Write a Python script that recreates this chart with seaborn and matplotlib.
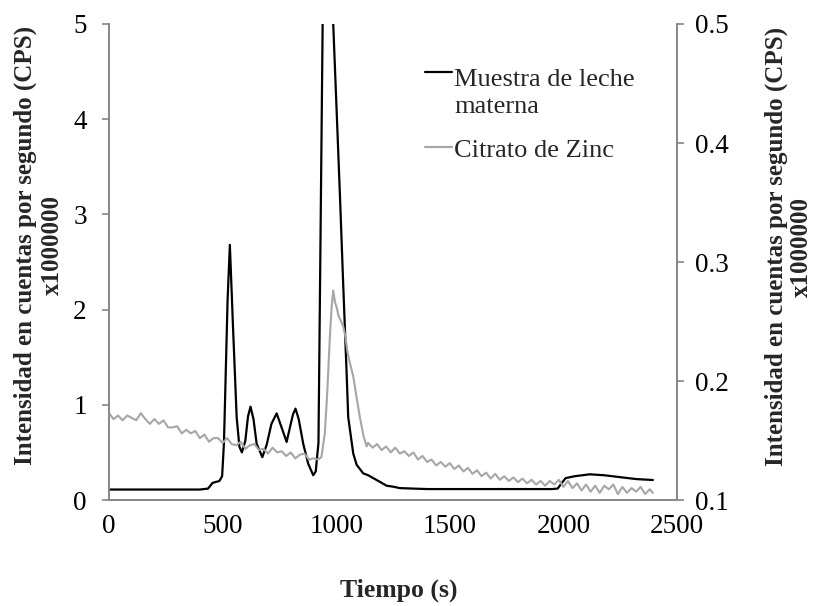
import seaborn as sns
import matplotlib.pyplot as plt
import pandas as pd

# Muestra de leche materna (left axis, CPS x1000000)
t_leche = [0, 100, 200, 300, 400, 436, 456, 486, 498, 506, 510, 522, 532, 547, 562,
           574, 585, 600, 612, 623, 636, 650, 675, 694, 715, 738, 760, 782, 800, 810,
           821, 835, 855, 877, 899, 910, 922, 930, 940, 950, 960, 987, 1002, 1017, 1031,
           1046, 1053, 1075, 1090, 1119, 1141, 1163, 1193, 1222, 1251, 1280, 1400, 1600,
           1800, 1950, 1975, 1990, 2010, 2050, 2117, 2180, 2250, 2320, 2394]
v_leche = [0.11, 0.11, 0.11, 0.11, 0.11, 0.12, 0.18, 0.20, 0.25, 0.60, 0.97, 2.10, 2.68, 1.75, 0.87,
           0.56, 0.50, 0.62, 0.88, 0.98, 0.85, 0.59, 0.45, 0.58, 0.80, 0.91, 0.76, 0.61, 0.80, 0.90,
           0.96, 0.85, 0.59, 0.38, 0.26, 0.30, 0.60, 2.50, 4.90, 7.30, 6.70, 5.00, 4.09, 3.17, 2.26,
           1.33, 0.87, 0.49, 0.37, 0.28, 0.26, 0.23, 0.19, 0.15, 0.14, 0.125, 0.115, 0.115,
           0.115, 0.115, 0.12, 0.17, 0.23, 0.25, 0.27, 0.26, 0.24, 0.22, 0.21]

# Citrato de Zinc (right axis, CPS x1000000)
t_zinc = [0, 20, 40, 60, 80, 100, 120, 140, 160, 180, 200, 220, 240, 260, 280, 300,
          320, 340, 360, 380, 400, 420, 440, 460, 480, 500, 520, 540, 560, 580, 600,
          620, 640, 660, 680, 700, 720, 740, 760, 780, 800, 820, 840, 860, 880, 900,
          920, 935, 950, 960, 973, 980, 987, 995, 1002, 1010, 1017, 1031, 1040, 1050,
          1062, 1075, 1090, 1104, 1120, 1134, 1140, 1160, 1180, 1200, 1220, 1240, 1260,
          1280, 1300, 1320, 1340, 1360, 1380, 1400, 1420, 1440, 1460, 1480, 1500, 1520,
          1540, 1560, 1580, 1600, 1620, 1640, 1660, 1680, 1700, 1720, 1740, 1760, 1780,
          1800, 1820, 1840, 1860, 1880, 1900, 1920, 1940, 1960, 1980, 2000, 2020, 2040,
          2060, 2080, 2100, 2120, 2140, 2160, 2180, 2200, 2220, 2240, 2260, 2280, 2300,
          2320, 2340, 2360, 2380, 2394]
v_zinc = [0.173, 0.168, 0.171, 0.167, 0.171, 0.169, 0.167, 0.173, 0.168, 0.164, 0.168,
          0.164, 0.167, 0.161, 0.161, 0.162, 0.156, 0.159, 0.156, 0.158, 0.152, 0.155,
          0.149, 0.152, 0.152, 0.148, 0.152, 0.147, 0.146, 0.149, 0.143, 0.146, 0.147,
          0.142, 0.143, 0.139, 0.144, 0.140, 0.141, 0.137, 0.140, 0.135, 0.138, 0.139,
          0.134, 0.135, 0.134, 0.136, 0.156, 0.188, 0.240, 0.262, 0.276, 0.266, 0.262,
          0.255, 0.252, 0.246, 0.238, 0.224, 0.214, 0.204, 0.186, 0.170, 0.154, 0.145,
          0.148, 0.144, 0.147, 0.142, 0.145, 0.140, 0.144, 0.139, 0.141, 0.137, 0.140,
          0.134, 0.137, 0.132, 0.134, 0.129, 0.132, 0.128, 0.131, 0.126, 0.129, 0.124,
          0.127, 0.122, 0.125, 0.120, 0.123, 0.118, 0.122, 0.117, 0.120, 0.116, 0.119,
          0.115, 0.118, 0.114, 0.117, 0.113, 0.116, 0.112, 0.116, 0.113, 0.117, 0.111,
          0.116, 0.110, 0.114, 0.108, 0.113, 0.107, 0.112, 0.106, 0.112, 0.109, 0.113,
          0.105, 0.111, 0.106, 0.110, 0.107, 0.111, 0.105, 0.109, 0.106]

leche = pd.DataFrame({'t': t_leche, 'v': v_leche})
zinc = pd.DataFrame({'t': t_zinc, 'v': v_zinc})

sns.set_style('white')
plt.rcParams['font.family'] = ['Liberation Serif', 'DejaVu Serif']
spine_c = '#868686'

fig, ax = plt.subplots(figsize=(8.17, 6.06), dpi=100)
fig.subplots_adjust(left=0.1334, right=0.8286, top=0.9604, bottom=0.1749)
ax2 = ax.twinx()

sns.lineplot(data=leche, x='t', y='v', ax=ax, color='black', linewidth=1.6,
             label='Muestra de leche\nmaterna', legend=False)
sns.lineplot(data=zinc, x='t', y='v', ax=ax2, color='#a6a6a6', linewidth=1.5,
             label='Citrato de Zinc', legend=False)

ax.set_xlim(0, 2500)
ax.set_ylim(0, 5)
ax2.set_ylim(0.1, 0.5)
ax.set_xticks([0, 500, 1000, 1500, 2000, 2500])
ax.set_yticks([0, 1, 2, 3, 4, 5])
ax2.set_yticks([0.1, 0.2, 0.3, 0.4, 0.5])
ax2.set_yticklabels(['0.1', '0.2', '0.3', '0.4', '0.5'])

for a in (ax, ax2):
    for s in a.spines.values():
        s.set_color(spine_c)
        s.set_linewidth(1.2)
    a.spines['top'].set_visible(False)
    a.tick_params(colors=spine_c, labelcolor='black', labelsize=19.5,
                  direction='out', length=5, width=1.2)
ax.tick_params(axis='y', pad=11)
ax.tick_params(axis='x', pad=5)
ax2.tick_params(axis='y', pad=8)

ax.set_xlabel('Tiempo (s)', fontsize=18.5, fontweight='bold')
ax.xaxis.set_label_coords(0.51, -0.165)
ylab = 'Intensidad en cuentas por segundo (CPS)\nx1000000'
ax.set_ylabel(ylab, fontsize=18, fontweight='bold', linespacing=1.2)
ax.yaxis.set_label_coords(-0.08, 0.535)
ax2.set_ylabel(ylab, fontsize=18, fontweight='bold', linespacing=1.1)
ax2.yaxis.set_label_coords(1.155, 0.532)

h1, l1 = ax.get_legend_handles_labels()
h2, l2 = ax2.get_legend_handles_labels()
leg = ax2.legend(h1 + h2, l1 + l2, loc='upper left', bbox_to_anchor=(0.515, 0.955),
                 frameon=False, fontsize=19, handlelength=1.0, handletextpad=0.1,
                 labelspacing=0.75)
for txt in leg.get_texts():
    txt.set_linespacing(1.3)
lines = leg.get_lines()
lines[0].set_linewidth(1.6)
lines[1].set_linewidth(1.6)
# put the black handle next to the first text line, as in the original
yd = lines[0].get_ydata()
lines[0].set_ydata([y + 15 for y in yd])

fig.savefig('out.png', dpi=100)
